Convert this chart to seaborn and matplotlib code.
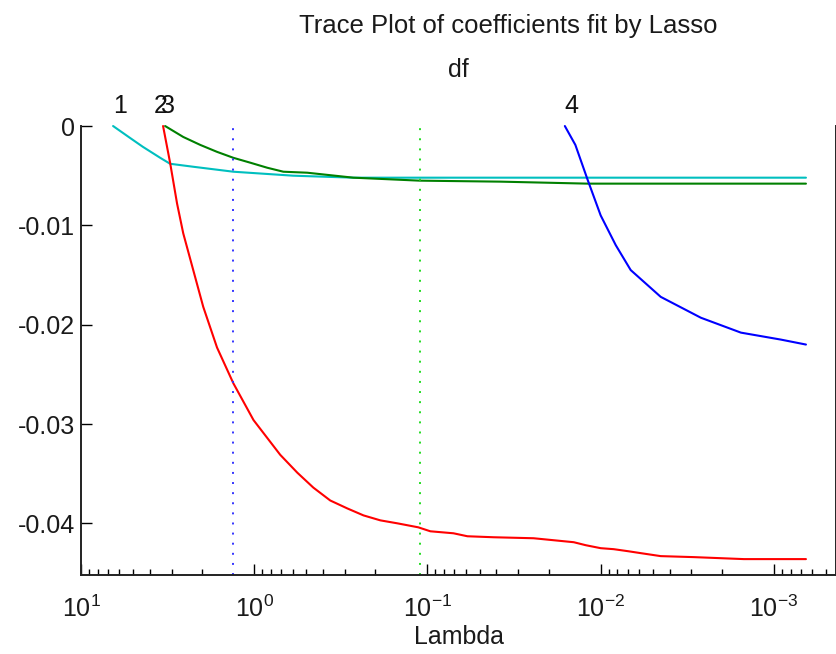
import matplotlib
matplotlib.use('Agg')
import matplotlib.pyplot as plt
import numpy as np
import pandas as pd
import seaborn as sns

sns.set_theme(style='white')
plt.rcParams['font.family'] = ['Liberation Sans', 'DejaVu Sans']
plt.rcParams['axes.unicode_minus'] = False
plt.rcParams['mathtext.default'] = 'regular'

# Coefficient traces (lambda, coefficient)
lambda_1 = [6.53, 5.21, 4.39, 3.49, 3.06, 2.25, 1.32, 0.596, 0.268, 0.000653]
coef_1 = [0.0, -0.0012, -0.0021, -0.0032, -0.0038, -0.0041, -0.0046, -0.0050, -0.0052, -0.0052]

lambda_2 = [3.36, 3.06, 2.79, 2.57, 2.25, 1.97, 1.64, 1.32, 1.01, 0.708, 0.564,
            0.456, 0.364, 0.290, 0.234, 0.187, 0.149, 0.113, 0.0962, 0.0708,
            0.0588, 0.0415, 0.0244, 0.0143, 0.0122, 0.0100, 0.00841, 0.00698,
            0.00587, 0.00450, 0.00290, 0.00149, 0.000653]
coef_2 = [0.0, -0.0037, -0.0078, -0.0108, -0.0145, -0.0182, -0.0223, -0.0259,
          -0.0296, -0.0331, -0.0349, -0.0364, -0.0377, -0.0385, -0.0392, -0.0397,
          -0.0400, -0.0404, -0.0408, -0.0410, -0.0413, -0.0414, -0.0415, -0.0419,
          -0.0422, -0.0425, -0.0426, -0.0428, -0.0430, -0.0433, -0.0434, -0.0436,
          -0.0436]

lambda_3 = [3.27, 2.57, 2.05, 1.64, 1.32, 1.05, 0.841, 0.679, 0.494, 0.268,
            0.111, 0.0378, 0.0119, 0.000653]
coef_3 = [0.0, -0.0011, -0.0019, -0.0026, -0.0032, -0.0037, -0.0042, -0.0046,
          -0.0047, -0.0052, -0.0055, -0.0056, -0.0058, -0.0058]

lambda_4 = [0.0161, 0.0140, 0.0119, 0.0100, 0.00818, 0.00671, 0.00450, 0.00264,
            0.00155, 0.000912, 0.000653]
coef_4 = [0.0, -0.0019, -0.0054, -0.0090, -0.0120, -0.0145, -0.0172, -0.0193,
          -0.0208, -0.0215, -0.0220]

# Reference lines (min MSE lambda and 1-SE lambda)
lambda_min_mse = 1.32
lambda_1se = 0.111

# Degrees of freedom shown on top axis
df_lambdas = [5.96, 3.49, 3.14, 0.0147]
df_labels = ['1', '2', '3', '4']

series_colors = {'x1': '#00bfbf', 'x2': '#ff0000', 'x3': '#008000', 'x4': '#0000ff'}


def build_frame() -> pd.DataFrame:
    """Stacks the traces in long form."""
    parts = []
    for name, lam, coef in [('x1', lambda_1, coef_1), ('x2', lambda_2, coef_2),
                            ('x3', lambda_3, coef_3), ('x4', lambda_4, coef_4)]:
        parts.append(pd.DataFrame({'Lambda': lam, 'coef': coef, 'predictor': name}))
    return pd.concat(parts, ignore_index=True)


fig = plt.figure(figsize=(8.37, 6.54), dpi=100)
ax = fig.add_axes([0.0968, 0.1208, 0.902, 0.6865])
ax.set_xscale('log')

data = build_frame()
sns.lineplot(data=data, x='Lambda', y='coef', hue='predictor', palette=series_colors,
             estimator=None, sort=False, linewidth=1.5, legend=False, ax=ax)

ax.axvline(lambda_min_mse, color='#3333ff', linestyle=(0, (1, 4.2)), linewidth=1.4)
ax.axvline(lambda_1se, color='#22dd22', linestyle=(0, (1, 4.2)), linewidth=1.4)
for line in ax.lines:
    line.set_clip_on(False)

ax.set_xlim(10, 4.38e-4)
ax.set_ylim(-0.0452, 0)
ax.set_yticks([0, -0.01, -0.02, -0.03, -0.04])
ax.set_yticklabels(['0', '-0.01', '-0.02', '-0.03', '-0.04'])
ax.set_xticks([10, 1, 0.1, 0.01, 0.001])
ax.xaxis.set_minor_locator(matplotlib.ticker.LogLocator(base=10, subs=np.arange(2, 10)))
ax.xaxis.set_minor_formatter(matplotlib.ticker.NullFormatter())
ax.tick_params(axis='both', which='major', direction='in', length=8, width=1,
               color='black', labelsize=18, labelcolor='#1a1a1a')
ax.tick_params(axis='x', which='major', pad=15)
ax.tick_params(axis='y', which='major', pad=4)
ax.tick_params(axis='x', which='minor', direction='in', length=4, width=1,
               color='black', bottom=True)
ax.tick_params(axis='y', right=False, left=True)
ax.tick_params(axis='x', top=False, bottom=True)
ax.set_xlabel('Lambda', fontsize=18, color='#1a1a1a', labelpad=2)
ax.set_ylabel('')

for side in ['left', 'bottom', 'right']:
    ax.spines[side].set_color('#222222')
    ax.spines[side].set_linewidth(1.4)
ax.spines['top'].set_visible(False)

top = ax.twiny()
top.set_xscale('log')
top.set_xlim(ax.get_xlim())
top.set_xticks(df_lambdas)
top.set_xticklabels(df_labels)
top.xaxis.set_minor_locator(matplotlib.ticker.NullLocator())
top.tick_params(axis='x', which='major', length=0, pad=6, labelsize=18, labelcolor='#111111')
top.set_xlabel('df', fontsize=18, color='#1a1a1a', labelpad=12)
for side in ['left', 'bottom', 'right', 'top']:
    top.spines[side].set_visible(False)

fig.suptitle('Trace Plot of coefficients fit by Lasso', fontsize=18.5, color='#1a1a1a',
             x=0.607, y=0.978)

fig.savefig('out.png', dpi=100)
